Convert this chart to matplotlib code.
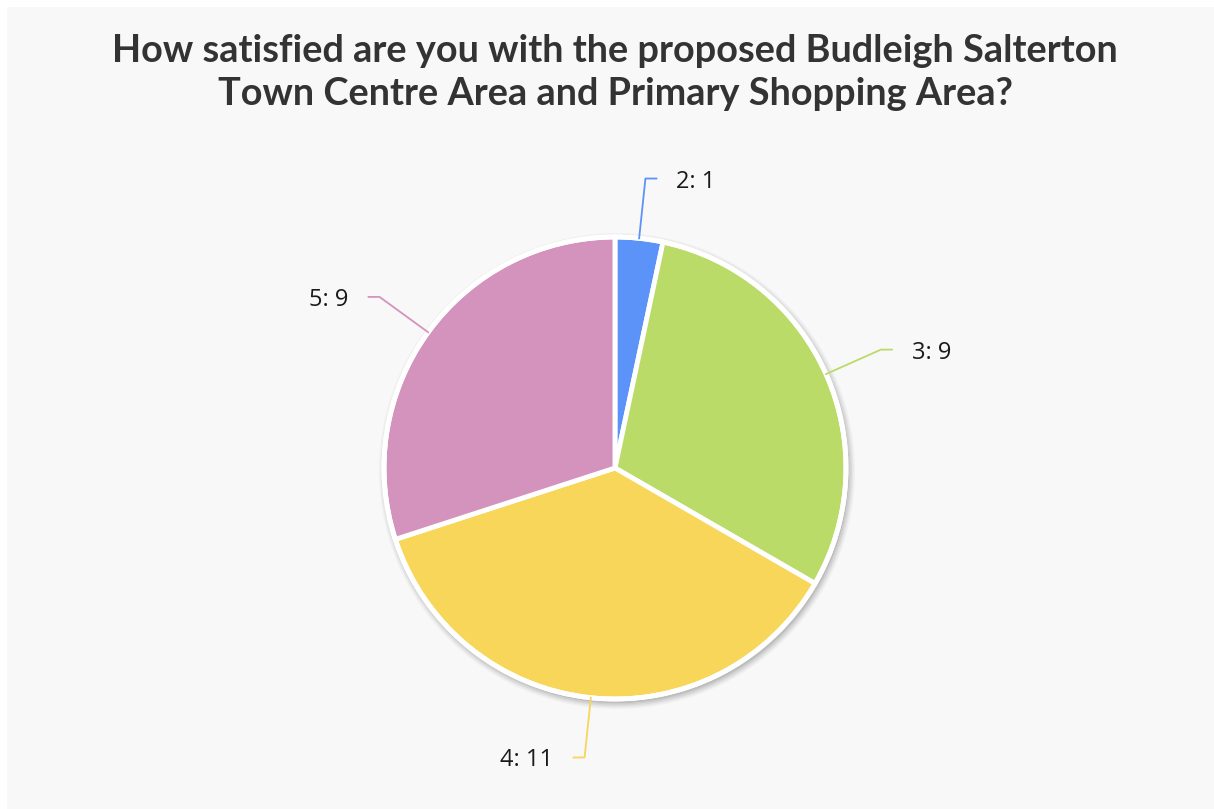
import numpy as np
import matplotlib.pyplot as plt
from matplotlib.patches import Circle

# data
categories = ["2", "3", "4", "5"]
counts = [1, 9, 11, 9]
colors = ["#5b93f8", "#badb68", "#f7d659", "#d493bd"]

title = ("How satisfied are you with the proposed Budleigh Salterton\n"
         "Town Centre Area and Primary Shopping Area?")

W, H = 1214, 809
cx, cy, R = 615, 468, 231  # pie centre / radius in pixels (from top-left)

fig = plt.figure(figsize=(W / 100, H / 100), dpi=100)
fig.patch.set_facecolor("white")

bg = fig.add_axes([7 / W, 0, 1 - 7 / W, 1 - 7 / H])
bg.set_facecolor("#f8f8f8")
bg.set_xticks([])
bg.set_yticks([])
for s in bg.spines.values():
    s.set_visible(False)

ax = fig.add_axes([0, 0, 1, 1])
ax.patch.set_visible(False)

# soft shadow
for i, a in enumerate([0.07, 0.06, 0.05, 0.04, 0.03]):
    ax.add_patch(Circle((2 / R, -3 / R), 1 + (1 + i * 1.5) / R, facecolor="black",
                        alpha=a, edgecolor="none", zorder=1))

wedges, _ = ax.pie(counts, colors=colors, startangle=90, counterclock=False, radius=1,
                   wedgeprops=dict(edgecolor="white", linewidth=3.5))
for w in wedges:
    w.set_zorder(2)
ax.add_patch(Circle((0, 0), 1.0, facecolor="none", edgecolor="white", linewidth=3.5, zorder=3))

total = sum(counts)
start = 0.0
for cat, n, col in zip(categories, counts, colors):
    mid = np.deg2rad((start + n / 2) / total * 360)
    start += n
    sx, sy = np.sin(mid), np.cos(mid)
    ex, ey = 1.26 * sx, 1.26 * sy
    side = 1 if sx >= 0 else -1
    hx = ex + side * 11 / R
    ax.plot([1.0 * sx, ex, hx], [1.0 * sy, ey, ey], color=col, lw=1.3, zorder=4)
    ax.text(ex + side * 31 / R, ey - 3 / R, f"{cat}: {n}", ha="left" if side > 0 else "right",
            va="center", fontsize=17, color="#1a1a1a", family="Open Sans", zorder=5)

ax.set_xlim(-cx / R, (W - cx) / R)
ax.set_ylim(-(H - cy) / R, cy / R)
ax.set_aspect("auto")
ax.axis("off")

fig.text(cx / W, 1 - 105 / H, title, ha="center", va="baseline", fontsize=27.3, fontweight="bold",
         color="#333333", family="Lato", linespacing=1.32)

fig.savefig("out.png", dpi=100, facecolor=fig.get_facecolor())
